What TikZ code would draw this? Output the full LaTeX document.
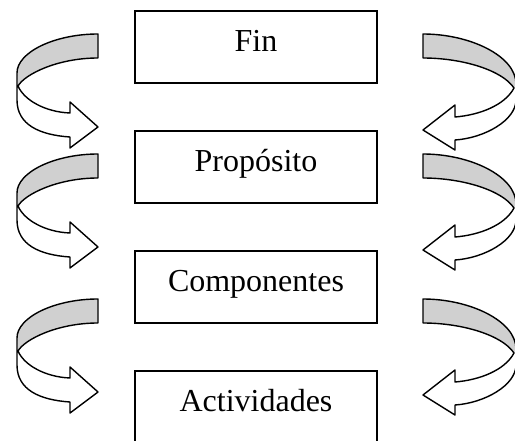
\documentclass[tikz,border=0pt]{standalone}
\usepackage{fontspec}
\setmainfont{Liberation Serif}
\definecolor{bandgray}{RGB}{208,208,208}
\begin{document}
\begin{tikzpicture}[x=1pt,y=-1pt,
  box/.style={draw, line width=1.8pt, minimum width=242pt, minimum height=72pt, inner sep=0pt},
  lbl/.style={font=\fontsize{32}{38}\selectfont, anchor=base, inner sep=0pt},
  band/.style={line width=1.4pt, line join=round},
  leftarrow/.pic={
    \fill[white] (17,86) .. controls (24,100) and (45,112) .. (70,113) -- (70,102) -- (98,127) -- (70,148) -- (70,137) .. controls (40,135) and (17,125) .. (17,100) -- cycle;
    \fill[bandgray] (98,34) .. controls (55,34) and (17,52) .. (17,73) -- (18,86) .. controls (25,74) and (58,58) .. (98,58) -- cycle;
    \draw[band] (98,34) .. controls (55,34) and (17,52) .. (17,73) -- (17,100) .. controls (17,125) and (40,135) .. (70,137) -- (70,148) -- (98,127) -- (70,102) -- (70,113) .. controls (45,112) and (24,100) .. (18,86) .. controls (25,74) and (58,58) .. (98,58) -- cycle;
  },
  rightarrow/.pic={
    \fill[white] (514,88) .. controls (505,105) and (480,115) .. (455,117) -- (455,105) -- (423,130) -- (455,150) -- (455,140) .. controls (485,138) and (516,120) .. (516,100) -- cycle;
    \fill[bandgray] (423,34) .. controls (470,34) and (516,56) .. (516,84) -- (514,88) .. controls (502,70) and (462,58) .. (423,58) -- cycle;
    \draw[band] (423,34) .. controls (470,34) and (516,56) .. (516,84) -- (516,100) .. controls (516,120) and (485,138) .. (455,140) -- (455,150) -- (423,130) -- (455,105) -- (455,117) .. controls (480,115) and (505,105) .. (514,88) .. controls (502,70) and (462,58) .. (423,58) -- cycle;
  }
]
\useasboundingbox (0,0) rectangle (515,441);
\clip (0,0) rectangle (515,441);

\node[box] (fin) at (256,47) {};
\node[box] (proposito) at (256,167) {};
\node[box] (componentes) at (256,287) {};
\node[box] (actividades) at (256,407) {};

\node[lbl] (finlbl) at (256,52) {Fin};
\node[lbl] (propositolbl) at (256,172) {Propósito};
\node[lbl] (componenteslbl) at (256,292) {Componentes};
\node[lbl] (actividadeslbl) at (256,412) {Actividades};

\pic at (0,0) {leftarrow};
\pic at (0,120) {leftarrow};
\pic at (0,265) {leftarrow};
\pic at (0,0) {rightarrow};
\pic at (0,120) {rightarrow};
\pic at (0,265) {rightarrow};
\end{tikzpicture}
\end{document}
